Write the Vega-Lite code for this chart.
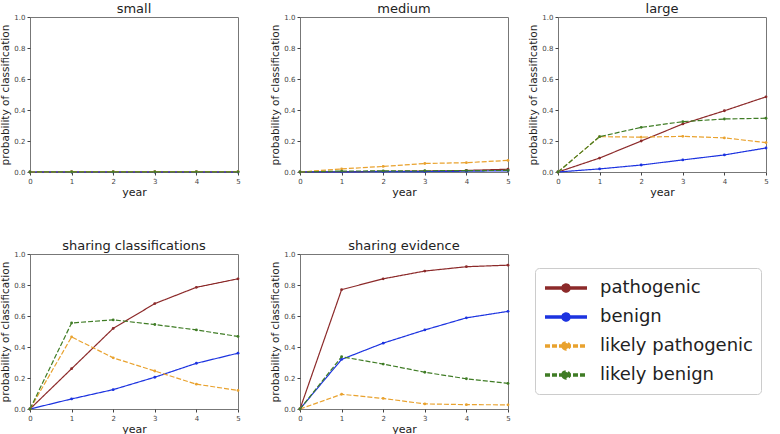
{
  "$schema": "https://vega.github.io/schema/vega-lite/v6.json",
  "background": "white",
  "padding": {"left": 0, "top": 2, "right": 0, "bottom": 0},
  "datasets": {
    "d": [
      {"panel": "small", "cls": "pathogenic", "year": 0, "p": 0}, {"panel": "small", "cls": "pathogenic", "year": 1, "p": 0.001}, {"panel": "small", "cls": "pathogenic", "year": 2, "p": 0.001}, {"panel": "small", "cls": "pathogenic", "year": 3, "p": 0.001}, {"panel": "small", "cls": "pathogenic", "year": 4, "p": 0.001}, {"panel": "small", "cls": "pathogenic", "year": 5, "p": 0.001},
      {"panel": "small", "cls": "benign", "year": 0, "p": 0}, {"panel": "small", "cls": "benign", "year": 1, "p": 0}, {"panel": "small", "cls": "benign", "year": 2, "p": 0}, {"panel": "small", "cls": "benign", "year": 3, "p": 0}, {"panel": "small", "cls": "benign", "year": 4, "p": 0}, {"panel": "small", "cls": "benign", "year": 5, "p": 0},
      {"panel": "small", "cls": "likely pathogenic", "year": 0, "p": 0}, {"panel": "small", "cls": "likely pathogenic", "year": 1, "p": 0.002}, {"panel": "small", "cls": "likely pathogenic", "year": 2, "p": 0.002}, {"panel": "small", "cls": "likely pathogenic", "year": 3, "p": 0.002}, {"panel": "small", "cls": "likely pathogenic", "year": 4, "p": 0.002}, {"panel": "small", "cls": "likely pathogenic", "year": 5, "p": 0.002},
      {"panel": "small", "cls": "likely benign", "year": 0, "p": 0}, {"panel": "small", "cls": "likely benign", "year": 1, "p": 0.001}, {"panel": "small", "cls": "likely benign", "year": 2, "p": 0.001}, {"panel": "small", "cls": "likely benign", "year": 3, "p": 0.001}, {"panel": "small", "cls": "likely benign", "year": 4, "p": 0.001}, {"panel": "small", "cls": "likely benign", "year": 5, "p": 0.001},

      {"panel": "medium", "cls": "pathogenic", "year": 0, "p": 0}, {"panel": "medium", "cls": "pathogenic", "year": 1, "p": 0.002}, {"panel": "medium", "cls": "pathogenic", "year": 2, "p": 0.004}, {"panel": "medium", "cls": "pathogenic", "year": 3, "p": 0.006}, {"panel": "medium", "cls": "pathogenic", "year": 4, "p": 0.01}, {"panel": "medium", "cls": "pathogenic", "year": 5, "p": 0.018},
      {"panel": "medium", "cls": "benign", "year": 0, "p": 0}, {"panel": "medium", "cls": "benign", "year": 1, "p": 0.001}, {"panel": "medium", "cls": "benign", "year": 2, "p": 0.002}, {"panel": "medium", "cls": "benign", "year": 3, "p": 0.003}, {"panel": "medium", "cls": "benign", "year": 4, "p": 0.005}, {"panel": "medium", "cls": "benign", "year": 5, "p": 0.008},
      {"panel": "medium", "cls": "likely pathogenic", "year": 0, "p": 0}, {"panel": "medium", "cls": "likely pathogenic", "year": 1, "p": 0.02}, {"panel": "medium", "cls": "likely pathogenic", "year": 2, "p": 0.036}, {"panel": "medium", "cls": "likely pathogenic", "year": 3, "p": 0.055}, {"panel": "medium", "cls": "likely pathogenic", "year": 4, "p": 0.06}, {"panel": "medium", "cls": "likely pathogenic", "year": 5, "p": 0.075},
      {"panel": "medium", "cls": "likely benign", "year": 0, "p": 0}, {"panel": "medium", "cls": "likely benign", "year": 1, "p": 0.006}, {"panel": "medium", "cls": "likely benign", "year": 2, "p": 0.007}, {"panel": "medium", "cls": "likely benign", "year": 3, "p": 0.008}, {"panel": "medium", "cls": "likely benign", "year": 4, "p": 0.009}, {"panel": "medium", "cls": "likely benign", "year": 5, "p": 0.01},

      {"panel": "large", "cls": "pathogenic", "year": 0, "p": 0}, {"panel": "large", "cls": "pathogenic", "year": 1, "p": 0.09}, {"panel": "large", "cls": "pathogenic", "year": 2, "p": 0.2}, {"panel": "large", "cls": "pathogenic", "year": 3, "p": 0.31}, {"panel": "large", "cls": "pathogenic", "year": 4, "p": 0.395}, {"panel": "large", "cls": "pathogenic", "year": 5, "p": 0.485},
      {"panel": "large", "cls": "benign", "year": 0, "p": 0}, {"panel": "large", "cls": "benign", "year": 1, "p": 0.02}, {"panel": "large", "cls": "benign", "year": 2, "p": 0.045}, {"panel": "large", "cls": "benign", "year": 3, "p": 0.078}, {"panel": "large", "cls": "benign", "year": 4, "p": 0.11}, {"panel": "large", "cls": "benign", "year": 5, "p": 0.155},
      {"panel": "large", "cls": "likely pathogenic", "year": 0, "p": 0}, {"panel": "large", "cls": "likely pathogenic", "year": 1, "p": 0.228}, {"panel": "large", "cls": "likely pathogenic", "year": 2, "p": 0.225}, {"panel": "large", "cls": "likely pathogenic", "year": 3, "p": 0.23}, {"panel": "large", "cls": "likely pathogenic", "year": 4, "p": 0.22}, {"panel": "large", "cls": "likely pathogenic", "year": 5, "p": 0.19},
      {"panel": "large", "cls": "likely benign", "year": 0, "p": 0}, {"panel": "large", "cls": "likely benign", "year": 1, "p": 0.228}, {"panel": "large", "cls": "likely benign", "year": 2, "p": 0.288}, {"panel": "large", "cls": "likely benign", "year": 3, "p": 0.325}, {"panel": "large", "cls": "likely benign", "year": 4, "p": 0.342}, {"panel": "large", "cls": "likely benign", "year": 5, "p": 0.347},

      {"panel": "sharing classifications", "cls": "pathogenic", "year": 0, "p": 0}, {"panel": "sharing classifications", "cls": "pathogenic", "year": 1, "p": 0.26}, {"panel": "sharing classifications", "cls": "pathogenic", "year": 2, "p": 0.52}, {"panel": "sharing classifications", "cls": "pathogenic", "year": 3, "p": 0.68}, {"panel": "sharing classifications", "cls": "pathogenic", "year": 4, "p": 0.785}, {"panel": "sharing classifications", "cls": "pathogenic", "year": 5, "p": 0.84},
      {"panel": "sharing classifications", "cls": "benign", "year": 0, "p": 0}, {"panel": "sharing classifications", "cls": "benign", "year": 1, "p": 0.065}, {"panel": "sharing classifications", "cls": "benign", "year": 2, "p": 0.125}, {"panel": "sharing classifications", "cls": "benign", "year": 3, "p": 0.205}, {"panel": "sharing classifications", "cls": "benign", "year": 4, "p": 0.295}, {"panel": "sharing classifications", "cls": "benign", "year": 5, "p": 0.36},
      {"panel": "sharing classifications", "cls": "likely pathogenic", "year": 0, "p": 0}, {"panel": "sharing classifications", "cls": "likely pathogenic", "year": 1, "p": 0.465}, {"panel": "sharing classifications", "cls": "likely pathogenic", "year": 2, "p": 0.33}, {"panel": "sharing classifications", "cls": "likely pathogenic", "year": 3, "p": 0.245}, {"panel": "sharing classifications", "cls": "likely pathogenic", "year": 4, "p": 0.16}, {"panel": "sharing classifications", "cls": "likely pathogenic", "year": 5, "p": 0.12},
      {"panel": "sharing classifications", "cls": "likely benign", "year": 0, "p": 0}, {"panel": "sharing classifications", "cls": "likely benign", "year": 1, "p": 0.555}, {"panel": "sharing classifications", "cls": "likely benign", "year": 2, "p": 0.575}, {"panel": "sharing classifications", "cls": "likely benign", "year": 3, "p": 0.545}, {"panel": "sharing classifications", "cls": "likely benign", "year": 4, "p": 0.51}, {"panel": "sharing classifications", "cls": "likely benign", "year": 5, "p": 0.468},

      {"panel": "sharing evidence", "cls": "pathogenic", "year": 0, "p": 0}, {"panel": "sharing evidence", "cls": "pathogenic", "year": 1, "p": 0.77}, {"panel": "sharing evidence", "cls": "pathogenic", "year": 2, "p": 0.84}, {"panel": "sharing evidence", "cls": "pathogenic", "year": 3, "p": 0.89}, {"panel": "sharing evidence", "cls": "pathogenic", "year": 4, "p": 0.918}, {"panel": "sharing evidence", "cls": "pathogenic", "year": 5, "p": 0.928},
      {"panel": "sharing evidence", "cls": "benign", "year": 0, "p": 0}, {"panel": "sharing evidence", "cls": "benign", "year": 1, "p": 0.32}, {"panel": "sharing evidence", "cls": "benign", "year": 2, "p": 0.425}, {"panel": "sharing evidence", "cls": "benign", "year": 3, "p": 0.51}, {"panel": "sharing evidence", "cls": "benign", "year": 4, "p": 0.588}, {"panel": "sharing evidence", "cls": "benign", "year": 5, "p": 0.63},
      {"panel": "sharing evidence", "cls": "likely pathogenic", "year": 0, "p": 0}, {"panel": "sharing evidence", "cls": "likely pathogenic", "year": 1, "p": 0.095}, {"panel": "sharing evidence", "cls": "likely pathogenic", "year": 2, "p": 0.068}, {"panel": "sharing evidence", "cls": "likely pathogenic", "year": 3, "p": 0.033}, {"panel": "sharing evidence", "cls": "likely pathogenic", "year": 4, "p": 0.028}, {"panel": "sharing evidence", "cls": "likely pathogenic", "year": 5, "p": 0.027},
      {"panel": "sharing evidence", "cls": "likely benign", "year": 0, "p": 0}, {"panel": "sharing evidence", "cls": "likely benign", "year": 1, "p": 0.337}, {"panel": "sharing evidence", "cls": "likely benign", "year": 2, "p": 0.29}, {"panel": "sharing evidence", "cls": "likely benign", "year": 3, "p": 0.237}, {"panel": "sharing evidence", "cls": "likely benign", "year": 4, "p": 0.195}, {"panel": "sharing evidence", "cls": "likely benign", "year": 5, "p": 0.165}
    ]
  },
  "config": {
    "font": "DejaVu Sans",
    "view": {"stroke": "#777777", "strokeWidth": 1},
    "title": {"fontSize": 13, "fontWeight": "normal", "color": "#222222", "offset": -3},
    "axis": {"domain": false, "grid": false, "labelFontSize": 7, "labelColor": "#444444", "tickColor": "#444444", "tickSize": 3, "titleFontSize": 11, "titleFontWeight": "normal", "titleColor": "#222222", "labelPadding": 2, "labelOverlap": false, "labelFlush": false},
    "axisX": {"titlePadding": 2},
    "axisY": {"titlePadding": 3, "titleFontSize": 10.5},
    "legend": {
      "orient": "none", "legendX": 505, "legendY": 251,
      "title": null,
      "fillColor": "white", "strokeColor": "#cccccc", "cornerRadius": 4, "padding": 8,
      "labelFontSize": 18, "labelColor": "#222222", "labelOffset": 33,
      "symbolType": "M-1,0H3.2M0.8,0A0.3,0.3 0 1,0 1.4,0A0.3,0.3 0 1,0 0.8,0",
      "symbolSize": 400, "symbolStrokeWidth": 3.5, "rowPadding": 6
    }
  },
  "spacing": 41,
  "vconcat": [
    {
      "spacing": 17,
      "hconcat": [
        {
          "spacing": 29,
          "hconcat": [
            {
              "title": "small", "width": 208, "height": 155,
              "data": {"name": "d"},
              "transform": [{"filter": {"field": "panel", "equal": "small"}}],
              "layer": [
                {"mark": {"type": "line", "strokeWidth": 1.2}, "encoding": {
                  "x": {"field": "year", "type": "quantitative", "scale": {"domain": [0, 5], "nice": false}, "axis": {"values": [0, 1, 2, 3, 4, 5], "format": "d", "title": "year"}},
                  "y": {"field": "p", "type": "quantitative", "scale": {"domain": [0, 1], "nice": false}, "axis": {"values": [0, 0.2, 0.4, 0.6, 0.8, 1], "format": ".1f", "labelOverlap": false, "title": "probability of classification"}},
                  "color": {"field": "cls", "type": "nominal", "scale": {"domain": ["pathogenic", "benign", "likely pathogenic", "likely benign"], "range": ["#8c2a2a", "#1c33e0", "#e9a22e", "#3f7c25"]}, "legend": {"title": null}},
                  "strokeDash": {"field": "cls", "type": "nominal", "scale": {"domain": ["pathogenic", "benign", "likely pathogenic", "likely benign"], "range": [[1, 0], [1, 0], [5, 2], [5, 2]]}, "legend": {"title": null}}}},
                {"mark": {"type": "point", "filled": true, "size": 8, "opacity": 1}, "encoding": {
                  "x": {"field": "year", "type": "quantitative"},
                  "y": {"field": "p", "type": "quantitative", "axis": {"values": [0, 0.2, 0.4, 0.6, 0.8, 1], "format": ".1f", "labelOverlap": false, "title": "probability of classification"}},
                  "fill": {"field": "cls", "type": "nominal", "legend": null, "scale": {"domain": ["pathogenic", "benign", "likely pathogenic", "likely benign"], "range": ["#8c2a2a", "#1c33e0", "#e9a22e", "#3f7c25"]}}}}
              ]
            },
            {
              "title": "medium", "width": 208, "height": 155,
              "data": {"name": "d"},
              "transform": [{"filter": {"field": "panel", "equal": "medium"}}],
              "layer": [
                {"mark": {"type": "line", "strokeWidth": 1.2}, "encoding": {
                  "x": {"field": "year", "type": "quantitative", "scale": {"domain": [0, 5], "nice": false}, "axis": {"values": [0, 1, 2, 3, 4, 5], "format": "d", "title": "year"}},
                  "y": {"field": "p", "type": "quantitative", "scale": {"domain": [0, 1], "nice": false}, "axis": {"values": [0, 0.2, 0.4, 0.6, 0.8, 1], "format": ".1f", "labelOverlap": false, "title": "probability of classification"}},
                  "color": {"field": "cls", "type": "nominal", "scale": {"domain": ["pathogenic", "benign", "likely pathogenic", "likely benign"], "range": ["#8c2a2a", "#1c33e0", "#e9a22e", "#3f7c25"]}, "legend": {"title": null}},
                  "strokeDash": {"field": "cls", "type": "nominal", "scale": {"domain": ["pathogenic", "benign", "likely pathogenic", "likely benign"], "range": [[1, 0], [1, 0], [5, 2], [5, 2]]}, "legend": {"title": null}}}},
                {"mark": {"type": "point", "filled": true, "size": 8, "opacity": 1}, "encoding": {
                  "x": {"field": "year", "type": "quantitative"},
                  "y": {"field": "p", "type": "quantitative", "axis": {"values": [0, 0.2, 0.4, 0.6, 0.8, 1], "format": ".1f", "labelOverlap": false, "title": "probability of classification"}},
                  "fill": {"field": "cls", "type": "nominal", "legend": null, "scale": {"domain": ["pathogenic", "benign", "likely pathogenic", "likely benign"], "range": ["#8c2a2a", "#1c33e0", "#e9a22e", "#3f7c25"]}}}}
              ]
            }
          ]
        },
        {
          "title": "large", "width": 208, "height": 155,
          "data": {"name": "d"},
          "transform": [{"filter": {"field": "panel", "equal": "large"}}],
          "layer": [
            {"mark": {"type": "line", "strokeWidth": 1.2}, "encoding": {
              "x": {"field": "year", "type": "quantitative", "scale": {"domain": [0, 5], "nice": false}, "axis": {"values": [0, 1, 2, 3, 4, 5], "format": "d", "title": "year"}},
              "y": {"field": "p", "type": "quantitative", "scale": {"domain": [0, 1], "nice": false}, "axis": {"values": [0, 0.2, 0.4, 0.6, 0.8, 1], "format": ".1f", "labelOverlap": false, "title": "probability of classification"}},
              "color": {"field": "cls", "type": "nominal", "scale": {"domain": ["pathogenic", "benign", "likely pathogenic", "likely benign"], "range": ["#8c2a2a", "#1c33e0", "#e9a22e", "#3f7c25"]}, "legend": {"title": null}},
              "strokeDash": {"field": "cls", "type": "nominal", "scale": {"domain": ["pathogenic", "benign", "likely pathogenic", "likely benign"], "range": [[1, 0], [1, 0], [5, 2], [5, 2]]}, "legend": {"title": null}}}},
            {"mark": {"type": "point", "filled": true, "size": 8, "opacity": 1}, "encoding": {
              "x": {"field": "year", "type": "quantitative"},
              "y": {"field": "p", "type": "quantitative", "axis": {"values": [0, 0.2, 0.4, 0.6, 0.8, 1], "format": ".1f", "labelOverlap": false, "title": "probability of classification"}},
              "fill": {"field": "cls", "type": "nominal", "legend": null, "scale": {"domain": ["pathogenic", "benign", "likely pathogenic", "likely benign"], "range": ["#8c2a2a", "#1c33e0", "#e9a22e", "#3f7c25"]}}}}
          ]
        }
      ]
    },
    {
      "spacing": 29,
      "hconcat": [
        {
          "title": "sharing classifications", "width": 208, "height": 155,
          "data": {"name": "d"},
          "transform": [{"filter": {"field": "panel", "equal": "sharing classifications"}}],
          "layer": [
            {"mark": {"type": "line", "strokeWidth": 1.2}, "encoding": {
              "x": {"field": "year", "type": "quantitative", "scale": {"domain": [0, 5], "nice": false}, "axis": {"values": [0, 1, 2, 3, 4, 5], "format": "d", "title": "year"}},
              "y": {"field": "p", "type": "quantitative", "scale": {"domain": [0, 1], "nice": false}, "axis": {"values": [0, 0.2, 0.4, 0.6, 0.8, 1], "format": ".1f", "labelOverlap": false, "title": "probability of classification"}},
              "color": {"field": "cls", "type": "nominal", "scale": {"domain": ["pathogenic", "benign", "likely pathogenic", "likely benign"], "range": ["#8c2a2a", "#1c33e0", "#e9a22e", "#3f7c25"]}, "legend": {"title": null}},
              "strokeDash": {"field": "cls", "type": "nominal", "scale": {"domain": ["pathogenic", "benign", "likely pathogenic", "likely benign"], "range": [[1, 0], [1, 0], [5, 2], [5, 2]]}, "legend": {"title": null}}}},
            {"mark": {"type": "point", "filled": true, "size": 8, "opacity": 1}, "encoding": {
              "x": {"field": "year", "type": "quantitative"},
              "y": {"field": "p", "type": "quantitative", "axis": {"values": [0, 0.2, 0.4, 0.6, 0.8, 1], "format": ".1f", "labelOverlap": false, "title": "probability of classification"}},
              "fill": {"field": "cls", "type": "nominal", "legend": null, "scale": {"domain": ["pathogenic", "benign", "likely pathogenic", "likely benign"], "range": ["#8c2a2a", "#1c33e0", "#e9a22e", "#3f7c25"]}}}}
          ]
        },
        {
          "title": "sharing evidence", "width": 208, "height": 155,
          "data": {"name": "d"},
          "transform": [{"filter": {"field": "panel", "equal": "sharing evidence"}}],
          "layer": [
            {"mark": {"type": "line", "strokeWidth": 1.2}, "encoding": {
              "x": {"field": "year", "type": "quantitative", "scale": {"domain": [0, 5], "nice": false}, "axis": {"values": [0, 1, 2, 3, 4, 5], "format": "d", "title": "year"}},
              "y": {"field": "p", "type": "quantitative", "scale": {"domain": [0, 1], "nice": false}, "axis": {"values": [0, 0.2, 0.4, 0.6, 0.8, 1], "format": ".1f", "labelOverlap": false, "title": "probability of classification"}},
              "color": {"field": "cls", "type": "nominal", "scale": {"domain": ["pathogenic", "benign", "likely pathogenic", "likely benign"], "range": ["#8c2a2a", "#1c33e0", "#e9a22e", "#3f7c25"]}, "legend": {"title": null}},
              "strokeDash": {"field": "cls", "type": "nominal", "scale": {"domain": ["pathogenic", "benign", "likely pathogenic", "likely benign"], "range": [[1, 0], [1, 0], [5, 2], [5, 2]]}, "legend": {"title": null}}}},
            {"mark": {"type": "point", "filled": true, "size": 8, "opacity": 1}, "encoding": {
              "x": {"field": "year", "type": "quantitative"},
              "y": {"field": "p", "type": "quantitative", "axis": {"values": [0, 0.2, 0.4, 0.6, 0.8, 1], "format": ".1f", "labelOverlap": false, "title": "probability of classification"}},
              "fill": {"field": "cls", "type": "nominal", "legend": null, "scale": {"domain": ["pathogenic", "benign", "likely pathogenic", "likely benign"], "range": ["#8c2a2a", "#1c33e0", "#e9a22e", "#3f7c25"]}}}}
          ]
        }
      ]
    }
  ],
  "resolve": {"scale": {"color": "shared", "strokeDash": "shared", "fill": "shared"}, "legend": {"color": "shared", "strokeDash": "shared"}}
}
